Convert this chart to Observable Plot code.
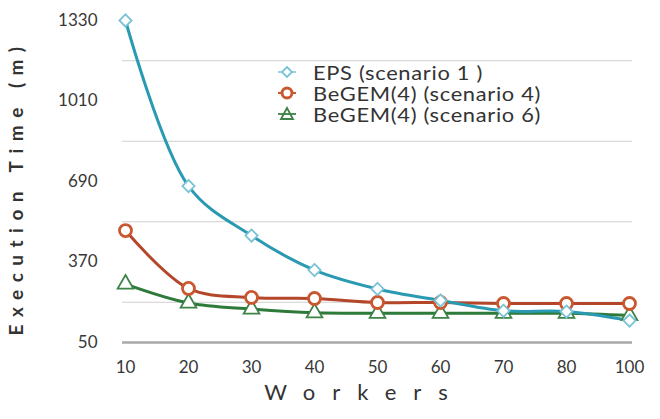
<!DOCTYPE html>
<html>
<head>
<meta charset="utf-8">
<script src="https://cdn.jsdelivr.net/npm/d3@7"></script>
<script src="https://cdn.jsdelivr.net/npm/@observablehq/plot@0.6"></script>
<style>
  html, body { margin: 0; padding: 0; background: white; }
  #wrap { position: relative; width: 660px; height: 419px; font-family: Lato, "Open Sans", sans-serif; }
  #legend { position: absolute; left: 275px; top: 61.5px; font-size: 19px; color: #333; }
  #legend .row { display: flex; align-items: center; height: 21px; line-height: 21px; white-space: nowrap; }
  #legend svg { width: 24px; height: 18px; margin-right: 14px; flex: none; }
  #legend span { display: inline-block; letter-spacing: 0.6px; transform: scaleX(1.15); transform-origin: left center; }
</style>
</head>
<body>
<div id="wrap"></div>
<script>
const workers = ["10", "20", "30", "40", "50", "60", "70", "80", "100"];
const seriesNames = ["EPS (scenario 1 )", "BeGEM(4) (scenario 4)", "BeGEM(4) (scenario 6)"];
const eps    = [1330, 672, 475, 338, 263, 217, 176, 173, 137];
const begem4 = [495, 265, 229, 225, 209, 209, 205, 205, 205];
const begem6 = [282, 207, 183, 168, 166, 166, 166, 166, 157];
const yTicks = [50, 370, 690, 1010, 1330];
const gridValues = [210, 530, 850, 1170];

const lineColors = ["#2a9ab3", "#b4462a", "#2e7a3a"];
const markColors = ["#79c3d6", "#c9572f", "#3d8246"];
const symbols = ["diamond2", "circle", "triangle2"];
const markR = [5.5, 6, 7.5];

const valuesBySeries = [eps, begem4, begem6];
const rows = seriesNames.map((s, k) =>
  workers.map((w, i) => ({ workers: w, value: valuesBySeries[k][i], series: s }))
);

const lineMarks = [2, 1, 0].map(k =>
  Plot.line(rows[k], { x: "workers", y: "value", stroke: lineColors[k], strokeWidth: 3, curve: "catmull-rom" })
);
const dotMarks = [2, 1, 0].map(k =>
  Plot.dot(rows[k], { x: "workers", y: "value", symbol: () => symbols[k], r: markR[k],
    stroke: markColors[k], strokeWidth: k === 1 ? 2.8 : 1.8, fill: "white" })
);

const yTitle = "Execution Time (m)";
const xTitle = "Workers";

const chart = Plot.plot({
  width: 660,
  height: 419,
  marginLeft: 122,
  marginRight: 28,
  marginTop: 20,
  marginBottom: 77,
  style: { fontFamily: "Lato, 'Open Sans', sans-serif", fontSize: "17px", color: "#383838", background: "white" },
  x: { type: "point", domain: workers, padding: 0, label: null, tickSize: 0, tickPadding: 18 },
  y: { domain: [50, 1330], ticks: yTicks, tickSize: 0, tickPadding: 25, label: null, tickFormat: d => String(d) },
  symbol: { type: "identity" },
  marks: [
    Plot.ruleY(gridValues, { stroke: "#cfcfcf", strokeWidth: 1.2 }),
    Plot.ruleY([50], { stroke: "#a8a8a8", strokeWidth: 2.5 }),
    ...lineMarks,
    ...dotMarks,
    Plot.text([yTitle], { frameAnchor: "left", textAnchor: "middle", rotate: -90, dx: -106, dy: 6,
      fontSize: 19, fontWeight: "bold", fill: "#333" }),
    Plot.text([xTitle], { frameAnchor: "bottom", textAnchor: "middle", dx: -13, dy: 57,
      fontSize: 22, fill: "#333" })
  ]
});

chart.querySelectorAll("text").forEach(t => {
  if (t.textContent === yTitle) t.style.letterSpacing = "7.5px";
  if (t.textContent === xTitle) t.style.letterSpacing = "17px";
});

const wrap = document.getElementById("wrap");
wrap.appendChild(chart);

// legend
const legend = document.createElement("div");
legend.id = "legend";
const sym = [
  '<path d="M12 4 L17 9 L12 14 L7 9 Z" fill="white" stroke="' + markColors[0] + '" stroke-width="1.8"/><line x1="3" y1="9" x2="7" y2="9" stroke="' + markColors[0] + '" stroke-width="1.5"/><line x1="17" y1="9" x2="21" y2="9" stroke="' + markColors[0] + '" stroke-width="1.5"/>',
  '<circle cx="12" cy="9" r="5" fill="white" stroke="' + markColors[1] + '" stroke-width="3"/><line x1="3" y1="9" x2="7" y2="9" stroke="' + markColors[1] + '" stroke-width="2"/><line x1="17" y1="9" x2="21" y2="9" stroke="' + markColors[1] + '" stroke-width="2"/>',
  '<path d="M12 3 L18 14 L6 14 Z" fill="white" stroke="' + markColors[2] + '" stroke-width="1.8"/><line x1="3" y1="9" x2="21" y2="9" stroke="' + markColors[2] + '" stroke-width="1.8"/>'
];
seriesNames.forEach((s, k) => {
  const row = document.createElement("div");
  row.className = "row";
  row.innerHTML = '<svg viewBox="0 0 24 18">' + sym[k] + '</svg><span>' + s + '</span>';
  legend.appendChild(row);
});
wrap.appendChild(legend);
</script>
</body>
</html>
